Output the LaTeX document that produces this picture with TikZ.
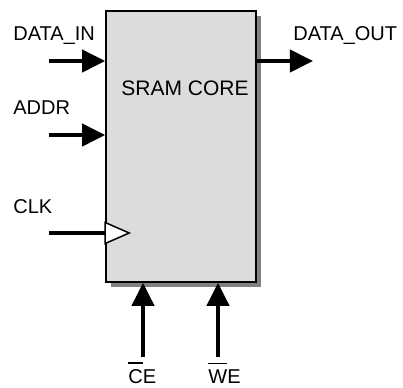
\documentclass[tikz,border=0pt]{standalone}
\usepackage{fontspec}
\setmainfont{Liberation Sans}
\usetikzlibrary{arrows.meta}
\definecolor{corefill}{HTML}{DCDCDC}
\definecolor{shadowgray}{HTML}{808080}
% active-low signal name: bar over the first part only
\newcommand\ovbar[1]{\setbox0\hbox{#1}\rlap{\rule[\dimexpr\ht0+2.6pt\relax]{\wd0}{0.7pt}}\box0}
\begin{document}
\begin{tikzpicture}[x=0.5pt,y=-0.5pt,
  sig/.style={line width=2pt,-{Triangle[length=11.5pt,width=11pt]}},
  wire/.style={line width=2pt},
  lbl/.style={anchor=base west,inner sep=0pt,font=\fontsize{10}{12}\selectfont},
  corebox/.style={draw=black,line width=0.8pt,fill=corefill,
    minimum width=75pt,minimum height=135.5pt,inner sep=0pt,
    preaction={fill=shadowgray,draw=none,transform canvas={xshift=2.5pt,yshift=-2.5pt}}}]
\useasboundingbox (0,0) rectangle (403,387);

% memory core block with drop shadow
\node[corebox] (core) at (181,146.5) {};
\node[anchor=base west,inner sep=0pt,font=\fontsize{10.5}{12}\selectfont] (title) at (121,95) {SRAM CORE};

% signal labels
\node[lbl] (dinl) at (13,40) {DATA\_IN};
\node[lbl] (addrl) at (13,114) {ADDR};
\node[lbl] (clkl) at (13,213) {CLK};
\node[lbl] (doutl) at (293,40) {DATA\_OUT};
\node[lbl] (cel) at (128,383) {\ovbar{C}E};
\node[lbl] (wel) at (208,383) {\ovbar{W}E};

% free ends of the connectors
\coordinate (din) at (49,61);
\coordinate (addr) at (49,135);
\coordinate (clk) at (49,233);
\coordinate (dout) at (313,61);
\coordinate (ce) at (143,357);
\coordinate (we) at (218,357);

% inputs and output
\draw[sig] (din) -- (din -| core.west);
\draw[sig] (addr) -- (addr -| core.west);
\draw[sig] (core.east |- dout) -- (dout);
\draw[sig] (ce) -- (ce |- core.south);
\draw[sig] (we) -- (we |- core.south);

% clock input with edge-trigger marker
\coordinate (clkin) at (clk -| core.west);
\draw[wire] (clk) -- (clkin);
\draw[line width=0.75pt,fill=white] ([yshift=5.25pt]clkin) -- ([xshift=12pt]clkin) -- ([yshift=-5.25pt]clkin) -- cycle;
\end{tikzpicture}
\end{document}
